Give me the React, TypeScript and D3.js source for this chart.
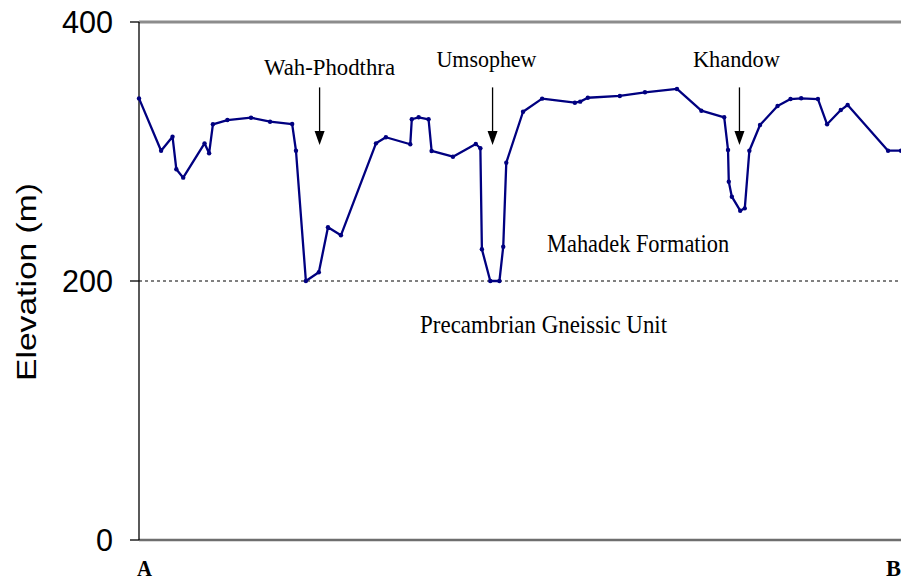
import * as React from "react";
import * as d3 from "d3";

// profile A-B, distance in % of profile length, elevation in metres
const distance = [0, 2.9, 4.4, 4.9, 5.8, 8.6, 9.2, 9.7, 11.6, 14.7, 17.2, 20.1, 20.6, 21.9, 23.6, 24.8, 26.5, 31.1, 32.4,
    35.6, 35.8, 36.7, 38.0, 38.4, 41.2, 44.2, 44.8, 45.0, 46.1, 47.3, 47.8, 48.2, 50.4, 52.9, 57.2, 57.9, 58.9, 63.1,
    66.4, 70.6, 73.8, 76.8, 77.3, 77.4, 77.8, 78.9, 79.5, 80.1, 81.5, 83.8, 85.5, 86.9, 89.1, 90.3, 92.1, 93.0, 98.3, 100];
const elevation = [341, 300.6, 311.4, 286.3, 279.8, 306.3, 298.6, 321, 324.3, 326.1, 323, 321.2, 300.6, 200, 206.7, 241.5,
    235.3, 306.3, 311, 305.6, 324.9, 326.4, 324.9, 300.4, 296, 305.8, 302.5, 224.5, 200, 200, 226.5, 291.4, 330.7, 340.8,
    337.7, 338.5, 341.5, 342.9, 345.7, 348.3, 331.5, 326.4, 301.2, 276.7, 265.1, 254.3, 256.1, 300.6, 320.5, 335.1,
    340.5, 341.1, 340.5, 321, 332, 335.9, 300.6, 300.6];

const yTicks = [0, 200, 400];
const contact = 200; // Mahadek / Precambrian boundary

// village arrows: label, distance, label width
const villages = ["Wah-Phodthra", "Umsophew", "Khandow"];
const villageAt = [23.7, 46.4, 78.8];
const villageLabelAt = [25.0, 45.6, 78.4];
const villageLabelElev = [359, 365.5, 365.5];
const villageWidth = [131, 100, 87];

const units = ["Mahadek Formation", "Precambrian Gneissic Unit"];
const unitAt = [65.5, 53.1];
const unitElev = [222.6, 160];
const unitWidth = [182, 247];

const W = 901, H = 580;

export default function App() {
    const x = d3.scaleLinear().domain([0, 100]).range([139, 901]);
    const y = d3.scaleLinear().domain([0, 400]).range([540, 22]);

    const pts = distance.map((d, i) => [d, elevation[i]] as [number, number]);
    const line = d3.line<[number, number]>().x(d => x(d[0])).y(d => y(d[1]));

    const serif = "'Liberation Serif', 'Times New Roman', serif";
    const sans = "'Liberation Sans', Arial, sans-serif";
    const tickW: Record<number, number> = {0: 17, 200: 51, 400: 51};

    return (
        <svg width={W} height={H} style={{position: "absolute", left: 0, top: 0, background: "#fff"}}>
            {/* frame */}
            <line x1={x(0)} x2={x(100)} y1={y(400)} y2={y(400)} stroke="#8c8c8c" strokeWidth={3}/>
            <line x1={x(0)} x2={x(100)} y1={y(0)} y2={y(0)} stroke="#6e6e6e" strokeWidth={2.5}/>
            <line x1={x(0)} x2={x(0)} y1={y(400)} y2={y(0)} stroke="#000" strokeWidth={1.3}/>
            {yTicks.map(t => (
                <g key={t}>
                    <line x1={x(0) - 9} x2={x(0)} y1={y(t)} y2={y(t)} stroke="#000" strokeWidth={1.3}/>
                    <text x={113} y={y(t) + 11} textAnchor="end" fontFamily={sans} fontSize={32}
                          textLength={tickW[t]} lengthAdjust="spacingAndGlyphs">{t}</text>
                </g>
            ))}
            <text transform={`translate(36,${(y(0) + y(400)) / 2 + 1}) rotate(-90)`} textAnchor="middle"
                  fontFamily={sans} fontSize={28} textLength={198} lengthAdjust="spacingAndGlyphs">Elevation (m)</text>

            {/* contact */}
            <line x1={x(0)} x2={x(100)} y1={y(contact)} y2={y(contact)} stroke="#000" strokeWidth={1}
                  strokeDasharray="3,3"/>

            {/* profile */}
            <path d={line(pts) || ""} fill="none" stroke="#000080" strokeWidth={2.3} strokeLinejoin="round"/>
            {pts.map((p, i) => (
                <circle key={i} cx={x(p[0])} cy={y(p[1])} r={2.2} fill="#000080"/>
            ))}

            {/* villages */}
            {villages.map((v, i) => {
                const ax = x(villageAt[i]);
                const top = y(349.5), tip = y(305), head = tip - 14;
                return (
                    <g key={v}>
                        <text x={x(villageLabelAt[i])} y={y(villageLabelElev[i])} textAnchor="middle"
                              fontFamily={serif} fontSize={24} textLength={villageWidth[i]}
                              lengthAdjust="spacingAndGlyphs">{v}</text>
                        <line x1={ax} x2={ax} y1={top} y2={head} stroke="#000" strokeWidth={1.3}/>
                        <path d={`M${ax - 5},${head} L${ax + 5},${head} L${ax},${tip} Z`} fill="#000"/>
                    </g>
                );
            })}

            {units.map((u, i) => (
                <text key={u} x={x(unitAt[i])} y={y(unitElev[i])} textAnchor="middle" fontFamily={serif}
                      fontSize={25} textLength={unitWidth[i]} lengthAdjust="spacingAndGlyphs">{u}</text>
            ))}

            <text x={x(0) - 2} y={576} fontFamily={serif} fontSize={24} fontWeight="bold" textLength={15}
                  lengthAdjust="spacingAndGlyphs">A</text>
            <text x={886} y={576} fontFamily={serif} fontSize={24} fontWeight="bold" textLength={15}
                  lengthAdjust="spacingAndGlyphs">B</text>
        </svg>
    );
}
